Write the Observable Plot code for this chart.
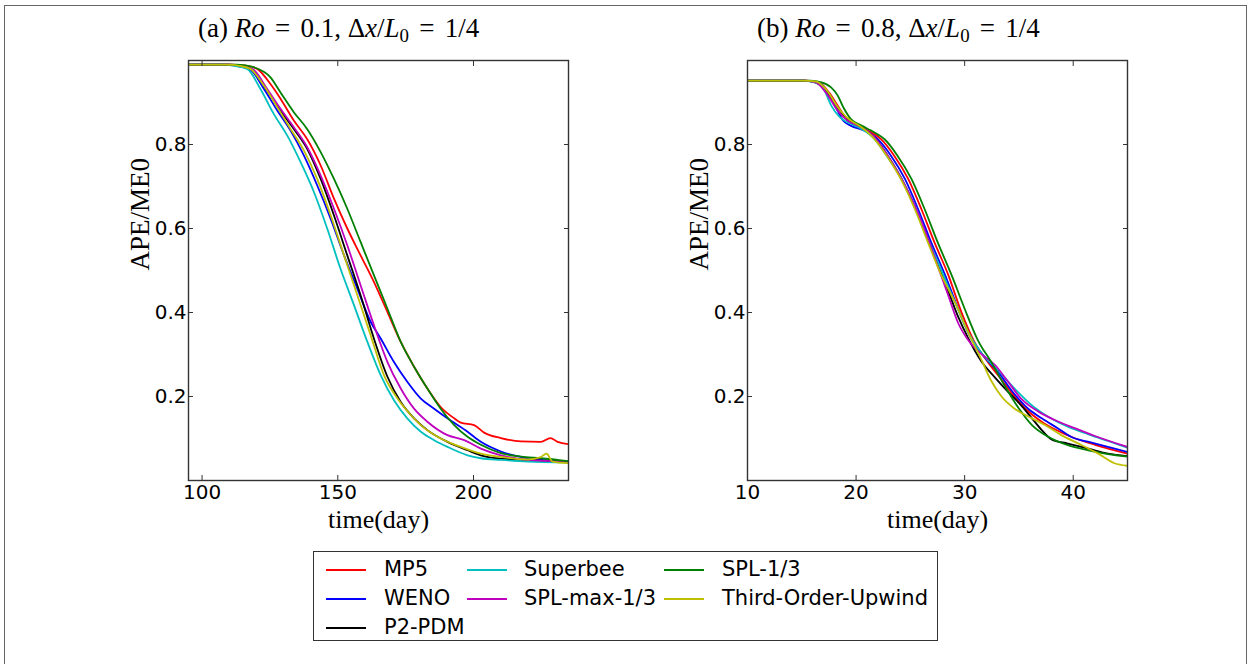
<!DOCTYPE html>
<html><head><meta charset="utf-8">
<script src="https://cdn.jsdelivr.net/npm/d3@7"></script>
<script src="https://cdn.jsdelivr.net/npm/@observablehq/plot@0.6"></script>
<style>
body{margin:0;background:#fff}
#fig{position:relative;width:1252px;height:664px;background:#fff;overflow:hidden}
.border{position:absolute;left:4px;top:5px;width:1243px;height:700px;border:1.5px solid #666;box-sizing:border-box}
.title{position:absolute;font-family:'Liberation Serif',serif;font-size:27px;line-height:1;white-space:nowrap;color:#000}
.title .eq{margin:0 0.38em}
.title sub{font-size:0.7em;vertical-align:-0.25em}
.panel{position:absolute;top:40px}
.legend{position:absolute;left:313px;top:551px;width:625px;height:90px;border:1.5px solid #333;box-sizing:border-box;background:#fff}
.li{position:absolute;font-family:'DejaVu Sans',sans-serif;font-size:21px;line-height:1;white-space:nowrap}
.ll{position:absolute;height:2px}
</style></head>
<body>
<div id="fig">
  <div class="border"></div>
  <div class="title" style="left:198px;top:15px">(a) <i>Ro</i><span class="eq">=</span>0.1, Δ<i>x</i>/<i>L</i><sub>0</sub><span class="eq">=</span>1/4</div>
  <div class="title" style="left:757px;top:15px">(b) <i>Ro</i><span class="eq">=</span>0.8, Δ<i>x</i>/<i>L</i><sub>0</sub><span class="eq">=</span>1/4</div>
  <div class="panel" id="pa" style="left:100px"></div>
  <div class="panel" id="pb" style="left:660px"></div>
  <div class="legend" id="legend"></div>
</div>
<script>
const schemes = ["MP5", "WENO", "P2-PDM", "Superbee", "SPL-max-1/3", "SPL-1/3", "Third-Order-Upwind"];
const colors = ["#ff0000", "#0000ff", "#000000", "#00bfbf", "#bf00bf", "#008000", "#bfbf00"];
const yTicks = [0.2, 0.4, 0.6, 0.8];
const xTicksA = [100, 150, 200];
const xTicksB = [10, 20, 30, 40];

// Panel (a): Ro = 0.1, [day, APE/ME0]
const a_MP5 = [[95,0.99],[110,0.99],[116,0.988],[120.3,0.98],[125.2,0.944],[128.9,0.909],[133.8,0.857],[138.7,0.813],[143.7,0.75],[148.6,0.671],[153.5,0.6],[158.4,0.536],[163.3,0.473],[168.3,0.401],[173.2,0.33],[178.1,0.271],[183,0.219],[187.9,0.175],[192.9,0.148],[195.3,0.138],[200.2,0.132],[203.9,0.114],[210.1,0.101],[217.5,0.093],[224.8,0.092],[228.3,0.101],[231,0.092],[235.3,0.086]];
const a_WENO = [[95,0.99],[108,0.99],[113,0.987],[117.8,0.978],[122.8,0.932],[127.7,0.881],[132.6,0.833],[137.5,0.774],[142.4,0.703],[147.4,0.623],[152.3,0.536],[157.2,0.457],[162.1,0.378],[165.8,0.338],[170.7,0.282],[175.6,0.235],[180.6,0.195],[185.5,0.171],[190.4,0.148],[197.8,0.116],[202.7,0.092],[210.1,0.069],[220,0.053],[235.3,0.045]];
const a_P2PDM = [[95,0.99],[110,0.99],[114,0.987],[118.5,0.978],[124,0.928],[128.9,0.881],[133.8,0.837],[138.7,0.79],[143.7,0.718],[148.6,0.631],[153.5,0.536],[158.4,0.441],[163.3,0.338],[168.3,0.247],[173.2,0.187],[178.1,0.148],[183,0.12],[190.4,0.092],[197.8,0.072],[202.7,0.06],[210.1,0.052],[220,0.049],[235.3,0.043]];
const a_Superbee = [[95,0.99],[107,0.99],[112,0.987],[116.6,0.98],[121.5,0.932],[126.4,0.873],[131.4,0.821],[136.3,0.758],[141.2,0.687],[146.1,0.6],[151,0.504],[156,0.417],[160.9,0.33],[165.8,0.251],[170.7,0.191],[175.6,0.148],[180.6,0.116],[185.5,0.096],[190.4,0.08],[197.8,0.06],[202.7,0.053],[210.1,0.049],[220,0.045],[235.3,0.043]];
const a_SPLmax = [[95,0.99],[110,0.99],[115,0.987],[119,0.978],[124,0.932],[128.9,0.885],[133.8,0.841],[138.7,0.794],[143.7,0.726],[148.6,0.647],[153.5,0.56],[158.4,0.465],[163.3,0.37],[168.3,0.282],[173.2,0.219],[178.1,0.171],[183,0.14],[190.4,0.108],[196.6,0.096],[202.7,0.076],[210.1,0.06],[220,0.049],[235.3,0.045]];
const a_SPL13 = [[95,0.99],[113,0.99],[119,0.984],[125.2,0.96],[128.9,0.924],[133.8,0.877],[138.7,0.837],[143.7,0.782],[148.6,0.718],[153.5,0.647],[158.4,0.568],[163.3,0.489],[168.3,0.409],[173.2,0.33],[178.1,0.271],[183,0.219],[187.9,0.171],[192.9,0.132],[197.8,0.104],[202.7,0.085],[210.1,0.065],[217.5,0.057],[224.8,0.053],[235.3,0.046]];
const a_TOU = [[95,0.99],[109,0.99],[114,0.987],[117.8,0.98],[122.8,0.94],[127.7,0.889],[132.6,0.837],[137.5,0.786],[142.4,0.718],[147.4,0.631],[152.3,0.536],[157.2,0.441],[162.1,0.346],[167,0.251],[172,0.195],[176.9,0.156],[180.6,0.132],[187.9,0.1],[195.3,0.08],[202.7,0.064],[210.1,0.056],[220,0.05],[224.8,0.056],[226.9,0.064],[229.1,0.045],[235.3,0.041]];

// Panel (b): Ro = 0.8, [day, APE/ME0]
const b_MP5 = [[10,0.952],[15.5,0.952],[16.8,0.944],[17.5,0.924],[18.3,0.893],[18.9,0.869],[19.8,0.849],[21.1,0.833],[22.3,0.813],[23.5,0.774],[24.8,0.718],[26,0.647],[27.2,0.568],[28.5,0.489],[29.7,0.401],[30.9,0.33],[32.2,0.28],[33.4,0.24],[34.6,0.2],[35.8,0.166],[37.1,0.14],[38.3,0.122],[40.2,0.1],[42,0.085],[45,0.064]];
const b_WENO = [[10,0.952],[15.3,0.952],[16.5,0.948],[17.4,0.924],[18.2,0.885],[18.8,0.857],[19.5,0.845],[20.8,0.833],[22,0.813],[23.2,0.774],[24.5,0.718],[25.7,0.647],[26.9,0.568],[28.2,0.489],[29.4,0.409],[30.6,0.338],[31.8,0.295],[33.1,0.258],[34.3,0.215],[35.8,0.172],[37.1,0.148],[38.6,0.124],[39.8,0.104],[41.7,0.09],[45,0.068]];
const b_P2PDM = [[10,0.952],[15.2,0.952],[16.2,0.948],[17.4,0.924],[18.3,0.888],[19.2,0.86],[20.5,0.841],[21.7,0.817],[22.9,0.774],[24.2,0.718],[25.4,0.651],[26.6,0.576],[27.5,0.515],[28.5,0.45],[29.4,0.39],[30.3,0.34],[31.5,0.285],[32.8,0.245],[34,0.211],[35.2,0.179],[36.2,0.148],[37.1,0.12],[38,0.098],[39.5,0.088],[41.4,0.076],[43.2,0.064],[45,0.058]];
const b_Superbee = [[10,0.952],[15,0.952],[16.2,0.948],[17.1,0.928],[17.7,0.893],[18.5,0.865],[19.2,0.853],[20.5,0.837],[21.7,0.813],[22.9,0.77],[24.2,0.718],[25.4,0.655],[26.6,0.576],[27.8,0.504],[29.1,0.425],[30.3,0.354],[31.5,0.305],[33.1,0.262],[34.6,0.219],[36.2,0.179],[37.7,0.152],[39.5,0.128],[41.4,0.11],[43.2,0.094],[45,0.078]];
const b_SPLmax = [[10,0.952],[15.2,0.952],[16.3,0.948],[17.4,0.917],[18.3,0.881],[19.2,0.857],[20.5,0.841],[21.7,0.817],[22.9,0.774],[24.2,0.718],[25.4,0.655],[26.6,0.578],[27.5,0.512],[28.5,0.44],[29.4,0.375],[30.3,0.335],[31.5,0.302],[32.8,0.275],[34,0.235],[35.2,0.195],[36.8,0.164],[38.3,0.144],[40.2,0.124],[42,0.106],[45,0.08]];
const b_SPL13 = [[10,0.952],[15.8,0.952],[16.8,0.948],[17.7,0.936],[18.3,0.917],[18.9,0.885],[19.5,0.861],[20.5,0.845],[21.4,0.833],[22,0.824],[22.6,0.813],[23.8,0.774],[25.1,0.718],[26.3,0.647],[27.5,0.568],[28.8,0.489],[30,0.409],[31.2,0.335],[32.5,0.28],[33.7,0.225],[34.9,0.175],[36.2,0.132],[37.7,0.104],[39.5,0.084],[41.4,0.072],[43.2,0.063],[45,0.057]];
const b_TOU = [[10,0.952],[15.2,0.952],[16.3,0.95],[17.4,0.926],[18.2,0.893],[19.1,0.865],[20.5,0.841],[21.7,0.813],[22.9,0.77],[24.2,0.714],[25.4,0.647],[26.6,0.568],[27.8,0.492],[29.1,0.425],[30.3,0.354],[31.5,0.29],[32.5,0.235],[33.4,0.2],[34.6,0.171],[36.2,0.148],[37.4,0.132],[38.9,0.108],[40.8,0.084],[42.3,0.064],[43.8,0.041],[45,0.035]];

const seriesA = [a_MP5, a_WENO, a_P2PDM, a_Superbee, a_SPLmax, a_SPL13, a_TOU];
const seriesB = [b_MP5, b_WENO, b_P2PDM, b_Superbee, b_SPLmax, b_SPL13, b_TOU];

function panel(series, xdomain, xticks, marginLeft, marginRight) {
  const data = schemes.flatMap((s, i) => series[i].map(([d, v]) => ({scheme: s, day: d, value: v})));
  const noLabel = () => "";
  return Plot.plot({
    width: 500, height: 480,
    marginLeft, marginRight, marginTop: 20, marginBottom: 40,
    x: {domain: xdomain, label: null},
    y: {domain: [0, 1], label: null},
    color: {domain: schemes, range: colors},
    style: {fontFamily: "DejaVu Sans", background: "transparent", overflow: "visible", color: "#000"},
    marks: [
      Plot.line(data, {x: "day", y: "value", z: "scheme", stroke: "scheme", strokeWidth: 1.8, curve: "monotone-x", clip: true}),
      Plot.frame({stroke: "#333", strokeWidth: 1.4}),
      Plot.axisX({anchor: "bottom", ticks: xticks, tickSize: 0, tickPadding: 4, fontSize: 20, label: null}),
      Plot.axisX({anchor: "bottom", ticks: xticks, tickSize: -5, tickFormat: noLabel, label: null, stroke: "#333"}),
      Plot.axisX({anchor: "top", ticks: xticks, tickSize: -5, tickFormat: noLabel, label: null, stroke: "#333"}),
      Plot.axisY({anchor: "left", ticks: yTicks, tickSize: 0, tickPadding: 2, fontSize: 20, tickFormat: d3.format(".1f"), label: null}),
      Plot.axisY({anchor: "left", ticks: yTicks, tickSize: -5, tickFormat: noLabel, label: null, stroke: "#333"}),
      Plot.axisY({anchor: "right", ticks: yTicks, tickSize: -5, tickFormat: noLabel, label: null, stroke: "#333"}),
      Plot.text(["time(day)"], {text: d => d, frameAnchor: "bottom", dy: 39, lineAnchor: "middle", fontFamily: "Liberation Serif", fontSize: 26}),
      Plot.text(["APE/ME0"], {text: d => d, frameAnchor: "left", dx: -48, rotate: -90, lineAnchor: "middle", fontFamily: "Liberation Serif", fontSize: 27})
    ]
  });
}

document.getElementById("pa").appendChild(panel(seriesA, [95, 235], xTicksA, 88, 32));
document.getElementById("pb").appendChild(panel(seriesB, [10, 45], xTicksB, 87, 33));

// Legend (3 columns, column-major order as in the original)
const legendCols = [[0, 1, 2], [3, 4], [5, 6]];
const colLineX = [12, 153, 350];
const colTextX = [70, 210, 408];
const rowY = [17.5, 46.5, 75.5];
const leg = document.getElementById("legend");
legendCols.forEach((col, ci) => col.forEach((si, ri) => {
  const line = document.createElement("div");
  line.className = "ll";
  line.style.left = colLineX[ci] + "px";
  line.style.width = "40px";
  line.style.top = (rowY[ri] - 1) + "px";
  line.style.background = colors[si];
  leg.appendChild(line);
  const t = document.createElement("div");
  t.className = "li";
  t.style.left = colTextX[ci] + "px";
  t.style.top = (rowY[ri] - 11) + "px";
  t.textContent = schemes[si];
  leg.appendChild(t);
}));
</script>
</body></html>
